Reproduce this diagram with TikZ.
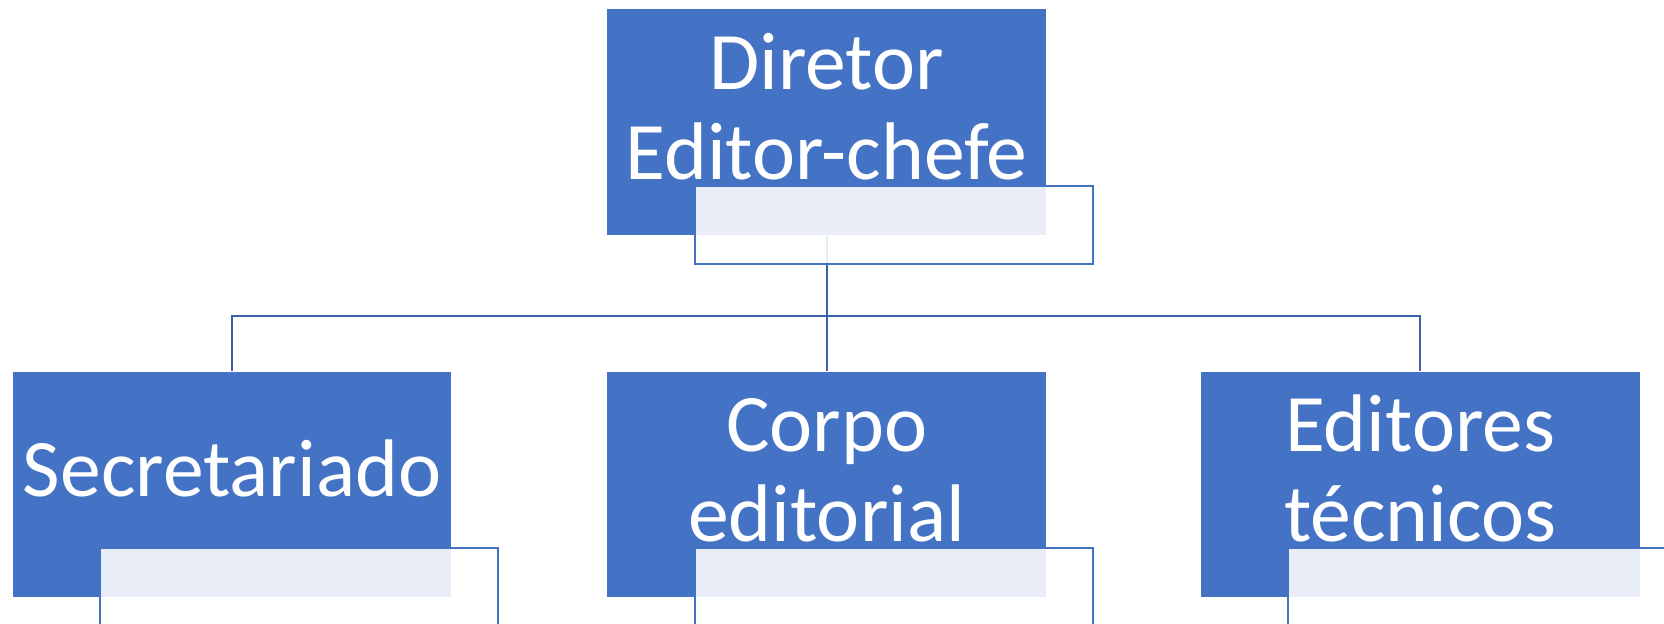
\documentclass[tikz,border=0pt]{standalone}
\usepackage{fontspec}
\setmainfont{Carlito}
\usepackage{tikz}
\usetikzlibrary{positioning}

\definecolor{boxblue}{HTML}{4472C4}
\definecolor{linkblue}{HTML}{3A62AB}

\tikzset{
  unit/.style={fill=boxblue, minimum width=8.78cm, minimum height=4.52cm, inner sep=0pt},
  unittext/.style={text=white, align=center, inner sep=0pt,
    font=\fontsize{46.5}{51.5}\selectfont, yshift=0.12cm},
  note/.style={draw=boxblue, line width=0.04cm, fill=white, fill opacity=0.88,
    minimum width=7.96cm, minimum height=1.56cm, inner sep=0pt, anchor=north west},
  link/.style={draw=linkblue, line width=0.04cm}
}

\begin{document}
\begin{tikzpicture}[x=0.02cm, y=0.02cm]
\useasboundingbox (0,0) rectangle (1664,-623);
% boxes
\node[unit] (sec) at (232,-484.5) {};
\node[unit, right=3.1cm of sec] (corpo) {};
\node[unit, right=3.08cm of corpo] (edit) {};
\node[unit, above=2.71cm of corpo] (dir) {};
\coordinate[below=1.6cm of dir.south] (bus);
% connectors
\draw[link] (dir.south) -- (bus);
\draw[link] (bus) -| (sec.north);
\draw[link] (bus) -- (corpo.north);
\draw[link] (bus) -| (edit.north);
% texts
\node[unittext] (dirtxt) at (dir) {\strut Diretor\\\strut Editor-chefe};
\node[unittext] (sectxt) at (sec) {\strut Secretariado};
\node[unittext] (corpotxt) at (corpo) {\strut Corpo\\\strut editorial};
\node[unittext] (edittxt) at (edit) {\strut Editores\\\strut técnicos};
% note boxes
\node[note, below right=3.52cm and 1.74cm of dir.north west] (dirnote) {};
\node[note, below right=3.52cm and 1.74cm of sec.north west] (secnote) {};
\node[note, below right=3.52cm and 1.74cm of corpo.north west] (corponote) {};
\node[note, below right=3.52cm and 1.74cm of edit.north west] (editnote) {};
\end{tikzpicture}
\end{document}
